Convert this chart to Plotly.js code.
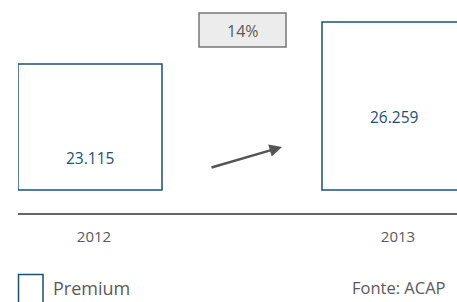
<!DOCTYPE html>
<html>
<head>
<meta charset="utf-8">
<script src="https://cdn.plot.ly/plotly-3.0.1.min.js"></script>
<style>html,body{margin:0;padding:0;background:#fff;}#chart{width:457px;height:302px;}</style>
</head>
<body>
<div id="chart"></div>
<script>
// Data
const categories = ['2012', '2013'];
const premiumValues = [23115, 26259];
const valueLabels = ['23.115', '26.259'];
const growthLabel = '14%';
const seriesName = 'Premium';
const sourceText = 'Fonte: ACAP';

// Visual constants
const W = 457, H = 302;
const ML = 18, MR = 0, MT = 0, MB = 89;
const PW = W - ML - MR, PH = H - MT - MB;
const BASE = 13683;           // value at which bars begin (visual baseline)
const Y_RANGE = [11961, 27906];
const blue = '#1b5078';
const gray = '#5a5a5a';
const font = '"Open Sans", Lato, sans-serif';

const px = p => (p - ML) / PW;
const py = p => (H - MB - p) / PH;

const trace = {
  type: 'bar',
  x: categories,
  y: premiumValues.map(v => v - BASE),
  base: premiumValues.map(() => BASE),
  width: 0.4737,
  marker: { color: 'rgba(255,255,255,1)', line: { color: blue, width: 1.5 } },
  hoverinfo: 'skip',
  showlegend: false,
  name: seriesName
};

const labelY = [py(158), py(117)];

const layout = {
  width: W, height: H,
  margin: { l: ML, r: MR, t: MT, b: MB },
  paper_bgcolor: '#fff', plot_bgcolor: '#fff',
  font: { family: font, color: gray },
  showlegend: false,
  xaxis: {
    type: 'category',
    range: [-0.2368, 1.2072],
    showline: true, linecolor: '#666', linewidth: 2,
    showgrid: false, zeroline: false,
    ticks: 'outside', ticklen: 9, tickcolor: 'rgba(0,0,0,0)',
    ticklabelshift: 4,
    tickfont: { family: font, size: 15, color: gray },
    fixedrange: true
  },
  yaxis: {
    range: Y_RANGE,
    visible: false, showgrid: false, zeroline: false, fixedrange: true
  },
  shapes: [
    { type: 'rect', xref: 'paper', yref: 'paper',
      x0: px(199), x1: px(286), y0: py(13), y1: py(47),
      fillcolor: '#ececec', line: { color: '#777', width: 1.5 } },
    { type: 'rect', xref: 'paper', yref: 'paper',
      x0: px(18.5), x1: px(43), y0: py(274.5), y1: py(306),
      fillcolor: 'rgba(255,255,255,1)', line: { color: blue, width: 1.5 } }
  ],
  annotations: [
    ...categories.map((c, i) => ({
      x: i, xref: 'x', y: labelY[i], yref: 'paper',
      text: valueLabels[i], showarrow: false,
      font: { family: font, size: 15.5, color: blue },
      xanchor: 'center', yanchor: 'middle'
    })),
    { x: px(242.5), y: py(31), xref: 'paper', yref: 'paper',
      text: growthLabel, showarrow: false,
      font: { family: font, size: 16, color: gray },
      xanchor: 'center', yanchor: 'middle' },
    { x: px(282), y: py(147), xref: 'paper', yref: 'paper',
      text: '', showarrow: true, ax: -72, ay: 21,
      arrowhead: 2, arrowsize: 1, arrowwidth: 2.5, arrowcolor: '#555' },
    { x: px(51), y: py(288), xref: 'paper', yref: 'paper',
      text: seriesName, showarrow: false,
      font: { family: font, size: 18, color: gray },
      xanchor: 'left', yanchor: 'middle' },
    { x: px(448), y: py(287), xref: 'paper', yref: 'paper',
      text: sourceText, showarrow: false,
      font: { family: font, size: 16.5, color: gray },
      xanchor: 'right', yanchor: 'middle' }
  ]
};

Plotly.newPlot('chart', [trace], layout, { displayModeBar: false, staticPlot: true });
</script>
</body>
</html>
